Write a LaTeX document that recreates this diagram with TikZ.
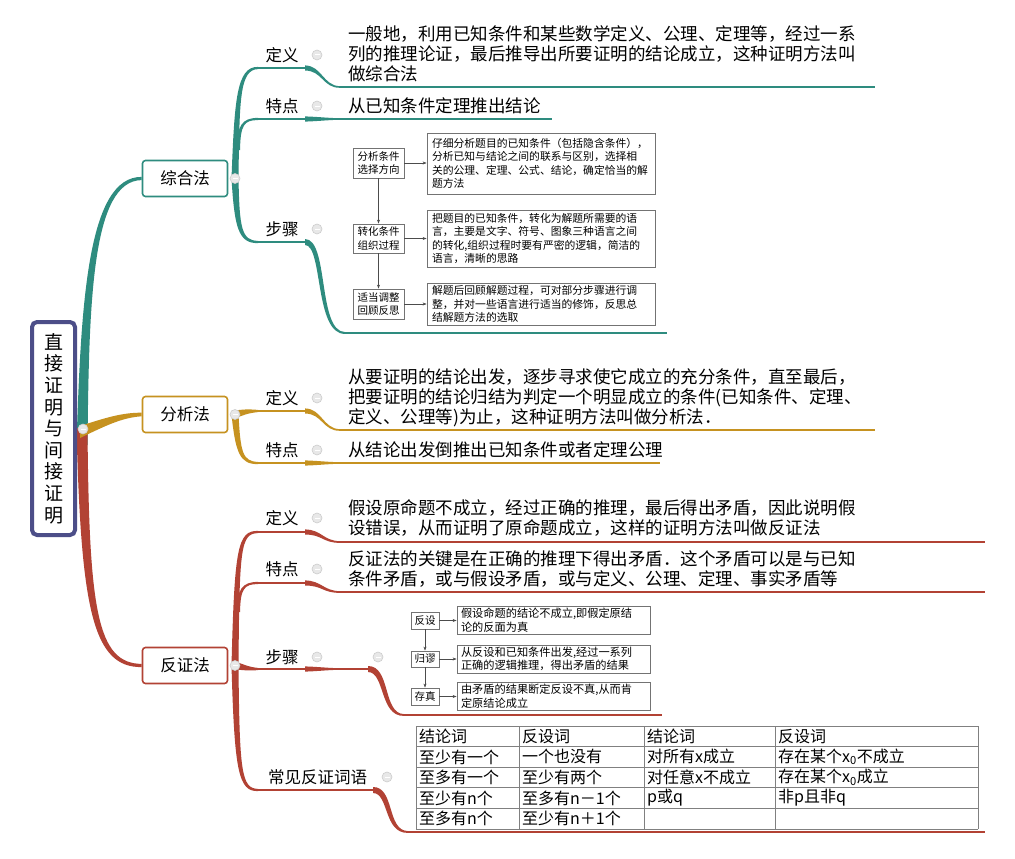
\documentclass[tikz,border=0pt]{standalone}
\usepackage{fontspec}
\setmainfont{Noto Sans CJK SC}
\usetikzlibrary{arrows.meta,calc,backgrounds}
\definecolor{cteal}{RGB}{46,140,127}
\definecolor{cgold}{RGB}{198,146,32}
\definecolor{cred}{RGB}{178,66,52}
\definecolor{croot}{RGB}{76,78,136}
% tapered filled connector: colour, A, C1, C2, B, offsets at A, C1, C2, B
\newcommand\tapr[9]{\fill[#1] ($#2+#6$) .. controls ($#3+#7$) and ($#4+#8$) .. ($#5+#9$) -- ($#5-#9$) .. controls ($#4-#8$) and ($#3-#7$) .. ($#2-#6$) -- cycle;}
\begin{document}
\begin{tikzpicture}[x=1pt,y=-1pt,
  lab/.style={font=\fontsize{16.5}{18}\selectfont, inner sep=0},
  knob/.style={circle, minimum size=10pt, inner sep=0, draw=black!20, fill=black!9, line width=0.6pt,
    path picture={\draw[white, line width=1pt] ([xshift=-2.5pt]path picture bounding box.center) -- ([xshift=2.5pt]path picture bounding box.center);}},
  mbox/.style={draw=#1, line width=1.6pt, rounded corners=3pt, fill=white, minimum width=85pt, minimum height=36pt, inner sep=0, font=\fontsize{16.5}{18}\selectfont},
  desc/.style={font=\fontsize{17.5}{20}\selectfont, align=left, inner sep=0, anchor=west},
  fsmall/.style={draw=black!55, line width=0.8pt, fill=white, inner sep=0, align=center, font=\fontsize{10.5}{13.5}\selectfont},
  fbig/.style={draw=black!55, line width=0.8pt, fill=white, inner xsep=5pt, inner ysep=0, align=left, font=\fontsize{10.8}{13.4}\selectfont},
  farr/.style={-{Stealth[length=4pt,width=3pt]}, line width=0.6pt, black!70},
  cell/.style={font=\fontsize{16}{18}\selectfont, inner sep=0, anchor=west},
  tline/.style={draw=black!50, line width=0.8pt},
]
\useasboundingbox (0,0) rectangle (1015,859);

% ---------- main nodes ----------
\node[draw=croot, line width=4pt, rounded corners=5pt, fill=white, minimum width=43pt, minimum height=213pt,
  inner sep=0, align=center, font=\fontsize{19}{21.6}\selectfont] (root) at (53.5,428.5)
  {直\\接\\证\\明\\与\\间\\接\\证\\明};
\node[mbox=cteal] (zh) at (185,178.5) {综合法};
\node[mbox=cgold] (fx) at (185,414.5) {分析法};
\node[mbox=cred]  (fz) at (185,665.5) {反证法};

\node[knob] (rk)  at (83,429) {};
\node[knob] (zhk) at (235,178.5) {};
\node[knob] (fxk) at (235,414.5) {};
\node[knob] (fzk) at (235,665.5) {};

% ---------- labels ----------
\node[lab] (zdy) at (282,55) {定义};
\node[lab] (ztd) at (282,106) {特点};
\node[lab] (zbz) at (282,229) {步骤};
\node[lab] (fdy) at (282,398) {定义};
\node[lab] (ftd) at (282,450) {特点};
\node[lab] (rdy) at (282,518) {定义};
\node[lab] (rtd) at (282,569) {特点};
\node[lab] (rbz) at (282,657) {步骤};
\node[lab] (rcj) at (317.5,777) {常见反证词语};

\node[knob] (zdyk) at (317,55) {};
\node[knob] (ztdk) at (317,106) {};
\node[knob] (zbzk) at (317,229) {};
\node[knob] (fdyk) at (317,398) {};
\node[knob] (ftdk) at (317,450) {};
\node[knob] (rdyk) at (317,518) {};
\node[knob] (rtdk) at (317,569) {};
\node[knob] (rbzk) at (317,657) {};
\node[knob] (rbzk2) at (378,657) {};
\node[knob] (rcjk) at (387,777) {};

% ---------- descriptions ----------
\node[desc] (zdyt) at (348,54) {一般地，利用已知条件和某些数学定义、公理、定理等，经过一系\\列的推理论证，最后推导出所要证明的结论成立，这种证明方法叫\\做综合法};
\node[desc] (ztdt) at (348,106) {从已知条件定理推出结论};
\node[desc] (fdyt) at (348,398) {从要证明的结论出发，逐步寻求使它成立的充分条件，直至最后，\\把要证明的结论归结为判定一个明显成立的条件(已知条件、定理、\\定义、公理等)为止，这种证明方法叫做分析法．};
\node[desc] (ftdt) at (348,450) {从结论出发倒推出已知条件或者定理公理};
\node[desc] (rdyt) at (348,517.5) {假设原命题不成立，经过正确的推理，最后得出矛盾，因此说明假\\设错误，从而证明了原命题成立，这样的证明方法叫做反证法};
\node[desc] (rtdt) at (348,569.5) {反证法的关键是在正确的推理下得出矛盾．这个矛盾可以是与已知\\条件矛盾，或与假设矛盾，或与定义、公理、定理、事实矛盾等};

% ---------- flowchart (综合法) ----------
\node[fsmall, minimum width=51pt, minimum height=30pt] (s1) at (378.5,163) {分析条件\\选择方向};
\node[fsmall, minimum width=51pt, minimum height=29pt] (s2) at (378.5,238.5) {转化条件\\组织过程};
\node[fsmall, minimum width=51pt, minimum height=30pt] (s3) at (378.5,304) {适当调整\\回顾反思};
\node[fbig, text width=218pt, minimum height=61pt] (b1) at (541,163.5) {仔细分析题目的已知条件（包括隐含条件），\\分析已知与结论之间的联系与区别，选择相\\关的公理、定理、公式、结论，确定恰当的解\\题方法};
\node[fbig, text width=218pt, minimum height=57pt] (b2) at (541,238.5) {把题目的已知条件，转化为解题所需要的语\\言，主要是文字、符号、图象三种语言之间\\的转化,组织过程时要有严密的逻辑，简洁的\\语言，清晰的思路};
\node[fbig, text width=218pt, minimum height=42pt] (b3) at (541,304) {解题后回顾解题过程，可对部分步骤进行调\\整，并对一些语言进行适当的修饰，反思总\\结解题方法的选取};
\draw[farr] (s1.east) -- (s1.east -| b1.west);
\draw[farr] (s2.east) -- (s2.east -| b2.west);
\draw[farr] (s3.east) -- (s3.east -| b3.west);
\draw[farr] (s1.south) -- (s2.north);
\draw[farr] (s2.south) -- (s3.north);

% ---------- flowchart (反证法) ----------
\node[fsmall, minimum width=28pt, minimum height=17pt] (r1) at (425,620.5) {反设};
\node[fsmall, minimum width=28pt, minimum height=16pt] (r2) at (425,659) {归谬};
\node[fsmall, minimum width=28pt, minimum height=17pt] (r3) at (425,696.5) {存真};
\node[fbig, inner xsep=4pt, text width=185pt, minimum height=28pt, font=\fontsize{11.2}{13.6}\selectfont] (rb1) at (553.5,620) {假设命题的结论不成立,即假定原结\\论的反面为真};
\node[fbig, inner xsep=4pt, text width=185pt, minimum height=28pt, font=\fontsize{11.2}{13.6}\selectfont] (rb2) at (553.5,659) {从反设和已知条件出发,经过一系列\\正确的逻辑推理，得出矛盾的结果};
\node[fbig, inner xsep=4pt, text width=185pt, minimum height=28pt, font=\fontsize{11.2}{13.6}\selectfont] (rb3) at (553.5,696) {由矛盾的结果断定反设不真,从而肯\\定原结论成立};
\draw[farr] (r1.east) -- (r1.east -| rb1.west);
\draw[farr] (r2.east) -- (r2.east -| rb2.west);
\draw[farr] (r3.east) -- (r3.east -| rb3.west);
\draw[farr] (r1.south) -- (r2.north);
\draw[farr] (r2.south) -- (r3.north);

% ---------- table ----------
\foreach \y in {726,746.6,767.2,787.8,808.4,829} \draw[tline] (416,\y) -- (978,\y);
\foreach \x in {416,519,644,775,978} \draw[tline] (\x,726) -- (\x,829);
\node[cell] (c00) at (419,736.3) {结论词};
\node[cell] (c01) at (522,736.3) {反设词};
\node[cell] (c02) at (647,736.3) {结论词};
\node[cell] (c03) at (778,736.3) {反设词};
\node[cell] (c10) at (419,756.9) {至少有一个};
\node[cell] (c11) at (522,756.9) {一个也没有};
\node[cell] (c12) at (647,756.9) {对所有x成立};
\node[cell] (c13) at (778,756.9) {存在某个x\textsubscript{0}不成立};
\node[cell] (c20) at (419,777.5) {至多有一个};
\node[cell] (c21) at (522,777.5) {至少有两个};
\node[cell] (c22) at (647,777.5) {对任意x不成立};
\node[cell] (c23) at (778,777.5) {存在某个x\textsubscript{0}成立};
\node[cell] (c30) at (419,798.1) {至少有n个};
\node[cell] (c31) at (522,798.1) {至多有n－1个};
\node[cell] (c32) at (647,798.1) {p或q};
\node[cell] (c33) at (778,798.1) {非p且非q};
\node[cell] (c40) at (419,818.7) {至多有n个};
\node[cell] (c41) at (522,818.7) {至少有n＋1个};

% ---------- connectors (background) ----------
\begin{scope}[on background layer]
\fill[white] (0,0) rectangle (1015,859);
% root to main boxes
\tapr{cteal}{(82,445)}{(85,300)}{(90,178.5)}{(zh.west)}{(5.5,0)}{(4,0)}{(2,2)}{(0,1.6)}
\tapr{cred}{(82,428)}{(85,610)}{(95,665.5)}{(fz.west)}{(5.5,0)}{(4,0)}{(2,-2)}{(0,-1.6)}
\tapr{cgold}{(80,432)}{(105,422)}{(122,415)}{(fx.west)}{(0,6)}{(0,4)}{(0,2.5)}{(0,1.8)}
% 综合法 children
\tapr{cteal}{(zhk)}{(237,100)}{(238,68)}{(258,68)}{(3.5,0)}{(2.5,0)}{(1.5,1.5)}{(0,1.1)}
\tapr{cteal}{(238,150)}{(239,125)}{(243,119)}{(258,119)}{(2,0)}{(1.5,0)}{(1,1)}{(0,1.1)}
\tapr{cteal}{(zhk)}{(237,228)}{(240,242)}{(258,242)}{(3.5,0)}{(2.5,0)}{(1.5,-1.5)}{(0,-1.1)}
\draw[cteal, line width=2.2pt] (257,68) -- (307,68);
\draw[cteal, line width=2.2pt] (257,119) -- (307,119);
\draw[cteal, line width=2.2pt] (257,242) -- (307,242);
\tapr{cteal}{(305,68)}{(322,68)}{(323,87)}{(340,87)}{(0,2.6)}{(0,2.2)}{(0,1.2)}{(0,0.8)}
\draw[cteal, line width=1.6pt] (339,87) -- (875,87);
\tapr{cteal}{(305,119)}{(318,119)}{(325,119)}{(338,119)}{(0,2.6)}{(0,2.2)}{(0,1.2)}{(0,0.8)}
\draw[cteal, line width=1.6pt] (337,119) -- (552,119);
\tapr{cteal}{(305,242)}{(326,242)}{(316,333)}{(345,333)}{(0,-3)}{(3,-3)}{(1.5,-1.5)}{(0,-0.9)}
\draw[cteal, line width=1.6pt] (344,333) -- (667,333);
% 分析法 children
\tapr{cgold}{(fxk)}{(242,412.5)}{(248,411)}{(258,411)}{(0,4)}{(0,3)}{(0,2)}{(0,1.1)}
\tapr{cgold}{(fxk)}{(238,452)}{(241,463)}{(258,463)}{(3.5,0)}{(2.5,0)}{(1.5,-1.5)}{(0,-1.1)}
\draw[cgold, line width=2.2pt] (257,411) -- (307,411);
\draw[cgold, line width=2.2pt] (257,463) -- (307,463);
\tapr{cgold}{(305,411)}{(322,411)}{(323,430)}{(340,430)}{(0,2.6)}{(0,2.2)}{(0,1.2)}{(0,0.8)}
\draw[cgold, line width=1.6pt] (339,430) -- (875,430);
\tapr{cgold}{(305,463)}{(318,463)}{(325,463)}{(338,463)}{(0,2.6)}{(0,2.2)}{(0,1.2)}{(0,0.8)}
\draw[cgold, line width=1.6pt] (337,463) -- (660,463);
% 反证法 children
\tapr{cred}{(fzk)}{(237,548)}{(239,532)}{(258,532)}{(3.5,0)}{(2.5,0)}{(1.5,1.5)}{(0,1.1)}
\tapr{cred}{(238,612)}{(239,589)}{(243,583)}{(258,583)}{(2,0)}{(1.5,0)}{(1,1)}{(0,1.1)}
\tapr{cred}{(fzk)}{(243,667)}{(248,669)}{(258,669)}{(0,4)}{(0,3)}{(0,2)}{(0,1.1)}
\tapr{cred}{(fzk)}{(237,772)}{(240,790)}{(258,790)}{(3.5,0)}{(2.5,0)}{(1.5,-1.5)}{(0,-1.1)}
\draw[cred, line width=2.2pt] (257,532) -- (307,532);
\draw[cred, line width=2.2pt] (257,583) -- (307,583);
\draw[cred, line width=2.2pt] (257,669) -- (307,669);
\draw[cred, line width=2.2pt] (257,790) -- (377,790);
\tapr{cred}{(305,532)}{(322,532)}{(323,542)}{(340,542)}{(0,2.6)}{(0,2.2)}{(0,1.2)}{(0,0.8)}
\draw[cred, line width=1.6pt] (339,542) -- (985,542);
\tapr{cred}{(305,583)}{(322,583)}{(323,592)}{(340,592)}{(0,2.6)}{(0,2.2)}{(0,1.2)}{(0,0.8)}
\draw[cred, line width=1.6pt] (339,592) -- (985,592);
\tapr{cred}{(305,669)}{(318,669)}{(325,669)}{(338,669)}{(0,2.6)}{(0,2.2)}{(0,1.2)}{(0,0.8)}
\draw[cred, line width=1.6pt] (337,669) -- (372,669);
\tapr{cred}{(368,669)}{(388,669)}{(381,715)}{(404,715)}{(0,-3)}{(3,-3)}{(1.5,-1.5)}{(0,-0.9)}
\draw[cred, line width=1.6pt] (403,715) -- (662,715);
\tapr{cred}{(373,790)}{(392,790)}{(385,832)}{(408,832)}{(0,-3)}{(3,-3)}{(1.5,-1.5)}{(0,-0.9)}
\draw[cred, line width=1.6pt] (407,832) -- (985,832);
\end{scope}
\end{tikzpicture}
\end{document}
